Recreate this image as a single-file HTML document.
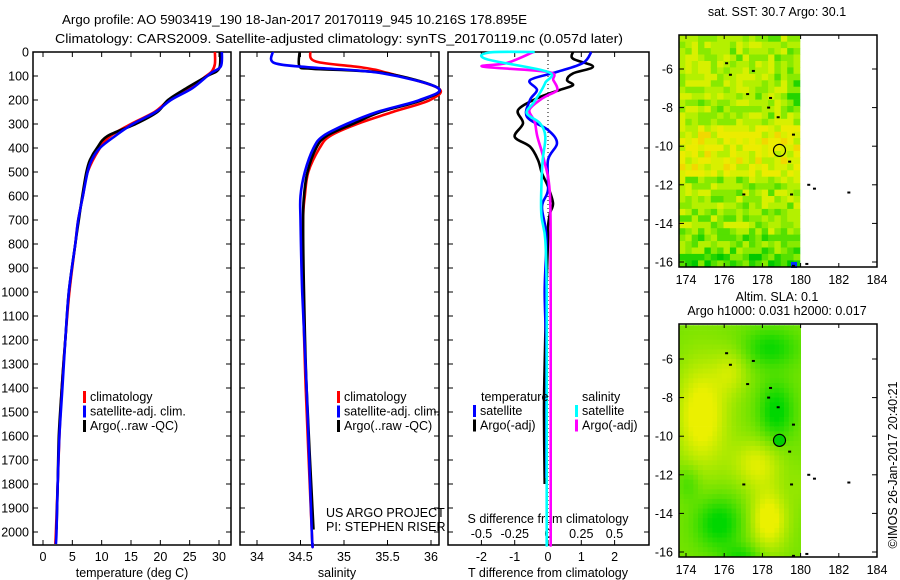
<!DOCTYPE html>
<html><head><meta charset="utf-8"><style>
html,body{margin:0;padding:0;background:#fff;}
svg{display:block;font-family:"Liberation Sans",sans-serif;}
</style></head><body>
<svg id="fig" width="900" height="580" viewBox="0 0 900 580" xmlns="http://www.w3.org/2000/svg">
<text x="62" y="24" font-size="13" textLength="465" lengthAdjust="spacingAndGlyphs">Argo profile: AO 5903419_190 18-Jan-2017 20170119_945 10.216S 178.895E</text>
<text x="55" y="43" font-size="13" textLength="568" lengthAdjust="spacingAndGlyphs">Climatology: CARS2009. Satellite-adjusted climatology: synTS_20170119.nc (0.057d later)</text>
<g id="g1"></g>
<g id="g2"></g>
<g id="g3"></g>
<g id="m1"></g>
<g id="m2"></g>
<text transform="translate(897,465) rotate(-90)" text-anchor="middle" font-size="12.5">©IMOS 26-Jan-2017 20:40:21</text>
</svg>
<script>
// ---- data ----
const tempClimDepth=[0,50,80,100,150,200,250,300,350,400,500,600,700,800,1000,1200,1400,1600,1800,2000,2050];
const tempClim=[29.3,29.3,28.8,27.8,25,21.5,19,15,11.5,9.7,7.6,6.8,6,5.5,4.5,3.8,3.2,2.8,2.5,2.2,2.1];
const tempSatDepth=[0,60,90,150,200,250,300,350,400,450,500,600,700,800,1000,1200,1400,1600,1800,2000,2050];
const tempSat=[30.5,30.3,28.5,25.5,21.8,19.2,15.3,12.3,9.7,8.3,7.6,6.8,6,5.5,4.4,3.8,3.3,2.8,2.5,2.3,2.2];
const tempArgoDepth=[0,70,100,150,200,250,300,350,400,450,500,600,700,800,1000,1200,1400,1600,1800,1990];
const tempArgo=[30.2,30,28,24.5,21.3,19.5,15.8,11,9.2,8,7.4,6.7,6.1,5.5,4.4,3.8,3.2,2.7,2.5,2.3];
const salClimDepth=[0,40,65,87,150,200,250,300,350,400,500,600,700,1000,1400,2000,2050];
const salClim=[34.61,34.68,35.22,35.5,36.08,35.99,35.56,35.15,34.84,34.72,34.59,34.55,34.53,34.53,34.56,34.63,34.64];
const salSatDepth=[0,46,65,87,150,200,250,300,350,400,500,600,700,1000,1400,2000,2050];
const salSat=[34.18,34.2,34.64,35.41,36.08,35.87,35.38,35.03,34.76,34.65,34.55,34.5,34.5,34.52,34.57,34.63,34.64];
const salArgoDepth=[0,60,70,87,150,200,250,300,350,400,500,600,700,1000,1400,1990];
const salArgo=[34.49,34.49,34.64,35.45,36.08,35.9,35.42,35.1,34.8,34.68,34.58,34.54,34.53,34.54,34.57,34.65];
const dTSatDepth=[0,46,83,117,158,200,270,325,380,450,575,645,770,1000,1250,1500,1775];
const dTSat=[1.3,1.05,0.27,-0.54,-0.33,-0.54,-0.63,0,0.27,0,0,-0.18,-0.05,-0.1,-0.05,-0.05,-0.05];
const dTArgoDepth=[0,28,61,89,117,138,158,193,242,297,353,394,450,506,561,630,672,728,783,1000,1300,1500,1800];
const dTArgo=[0.75,0.75,1.35,0.75,0.57,0.75,0.36,-0.33,-0.9,-0.75,-1.0,-0.54,-0.3,-0.18,0,0.15,0.06,0,0,-0.05,-0.1,-0.12,-0.1];
const dSArgoDepth=[0,46,61,83,117,158,180,200,242,290,353,450,600,1000,1500,2000,2050];
const dSArgo=[-0.11,-0.31,-0.49,0,0.04,0.07,0.0,-0.06,-0.14,-0.1,-0.08,-0.03,0.015,0.02,0.02,0.02,0.02];
const dSSatDepth=[0,2,30,83,128,170,212,255,297,353,450,560,680,783,1000,1500,2000,2050];
const dSSat=[-0.1,-0.44,-0.46,0,-0.02,-0.06,-0.11,-0.16,-0.06,-0.02,-0.04,-0.05,-0.05,-0.02,-0.01,-0.01,-0.01,-0.01];
const depthTicks=[0,100,200,300,400,500,600,700,800,900,1000,1100,1200,1300,1400,1500,1600,1700,1800,1900,2000];
const tempTicks=[0,5,10,15,20,25,30];
const salTicks=[34,34.5,35,35.5,36];
const salTickLabels=["34","34.5","35","35.5","36"];
const tdiffTicks=[-2,-1,0,1,2];
const sdiffTicks=[-0.5,-0.25,0,0.25,0.5];
const sdiffLabels=["-0.5","-0.25","0","0.25","0.5"];
const lonTicks=[174,176,178,180,182,184];
const latTicks=[-6,-8,-10,-12,-14,-16];
const argoLon=178.895, argoLat=-10.216;
const islands=[[176.1,-5.7],[176.3,-6.3],[177.5,-6.1],[177.2,-7.3],[178.4,-7.5],[178.3,-8],[178.8,-8.5],[179.6,-9.4],[179.4,-10.8],[180.4,-12],[180.7,-12.2],[182.5,-12.4],[177,-12.5],[179.5,-12.5],[179.6,-16.2],[180.3,-16.1]];

// ---- scales ----
const NS="http://www.w3.org/2000/svg";
const Y=d=>52+0.24*d;
const TX=t=>43+t*176/30;
const SX=s=>257+(s-34)*87;
const DT=t=>548+t*33.3;
const DS=s=>548+s*133;
const LON=x=>686+(x-174)*19.1;
const LAT1=y=>69+(-6-y)*19.3;
const LAT2=y=>359+(-6-y)*19.3;
function mk(tag,attrs,parent){const e=document.createElementNS(NS,tag);for(const k in attrs)e.setAttribute(k,attrs[k]);parent.appendChild(e);return e;}
function txt(parent,x,y,s,anchor,size){const t=mk('text',{x:x,y:y,'font-size':size||12,'text-anchor':anchor||'start'},parent);t.textContent=s;return t;}
function line(parent,xs,ds,fx,color,w){
  const P=xs.map((v,i)=>[fx(v),Y(ds[i])]);
  let d='M'+P[0][0].toFixed(1)+','+P[0][1].toFixed(1);
  for(let i=0;i<P.length-1;i++){
    const p0=P[Math.max(0,i-1)],p1=P[i],p2=P[i+1],p3=P[Math.min(P.length-1,i+2)];
    const c1=[p1[0]+(p2[0]-p0[0])/6,p1[1]+(p2[1]-p0[1])/6];
    const c2=[p2[0]-(p3[0]-p1[0])/6,p2[1]-(p3[1]-p1[1])/6];
    d+=' C'+c1.map(v=>v.toFixed(1)).join(',')+' '+c2.map(v=>v.toFixed(1)).join(',')+' '+p2.map(v=>v.toFixed(1)).join(',');
  }
  return mk('path',{d:d,fill:'none',stroke:color,'stroke-width':w||2.6,'stroke-linejoin':'round'},parent);
}
function frame(g,x0,x1,y0,y1,name){
  const r=mk('rect',{x:x0,y:y0,width:x1-x0,height:y1-y0,fill:'none',stroke:'#000','stroke-width':1.5},g);
  
  
}
function depthTickMarks(g,x0,x1,labels){
  depthTicks.forEach(d=>{
    mk('line',{x1:x0,x2:x0+5,y1:Y(d),y2:Y(d),stroke:'#000'},g);
    mk('line',{x1:x1,x2:x1-5,y1:Y(d),y2:Y(d),stroke:'#000'},g);
    if(labels){const t=txt(g,29,Y(d)+4.5,String(d),'end',12.5);
      
      }
  });
}
function xTicks(g,vals,fx,labels,ylab){
  vals.forEach((v,i)=>{
    const x=fx(v);
    mk('line',{x1:x,x2:x,y1:545,y2:540,stroke:'#000'},g);
    mk('line',{x1:x,x2:x,y1:52,y2:57,stroke:'#000'},g);
    if(labels){const t=txt(g,x,ylab,labels[i],'middle',12.5);
      
      }
  });
}
function legend(g,x,y,items){
  items.forEach((it,i)=>{
    const yy=y+i*14.5;
    const b=mk('rect',{x:x,y:yy-10,width:3,height:12,fill:it[1]},g);
    
    
    const t=txt(g,x+7,yy,it[0],'start',12.5);
    
    
  });
}

// ---- panel 1 ----
const g1=document.getElementById('g1');
frame(g1,33,231,52,545,'temperature-axes');
depthTickMarks(g1,33,231,true);
xTicks(g1,tempTicks,TX,tempTicks.map(String),561);
let t=txt(g1,132,577,'temperature (deg C)','middle',12.5);


let l=line(g1,tempClim,tempClimDepth,TX,'#f00');


l=line(g1,tempArgo,tempArgoDepth,TX,'#000');


l=line(g1,tempSat,tempSatDepth,TX,'#00f');


legend(g1,83,401,[['climatology','#f00'],['satellite-adj. clim.','#00f'],['Argo(..raw -QC)','#000']]);

// ---- panel 2 ----
const g2=document.getElementById('g2');
frame(g2,240,439,52,545,'salinity-axes');
depthTickMarks(g2,240,439,false);
xTicks(g2,salTicks,SX,salTickLabels,561);
t=txt(g2,337,577,'salinity','middle',12.5);


l=line(g2,salClim,salClimDepth,SX,'#f00');


l=line(g2,salArgo,salArgoDepth,SX,'#000');


l=line(g2,salSat,salSatDepth,SX,'#00f');


legend(g2,337,401,[['climatology','#f00'],['satellite-adj. clim.','#00f'],['Argo(..raw -QC)','#000']]);
t=txt(g2,326,517,'US ARGO PROJECT','start',12.5);


t=txt(g2,326,531,'PI: STEPHEN RISER','start',12.5);



// ---- panel 3 ----
const g3=document.getElementById('g3');
frame(g3,448,649,52,545,'difference-axes');
depthTickMarks(g3,448,649,false);
xTicks(g3,tdiffTicks,DT,tdiffTicks.map(String),561);
mk('line',{x1:548,x2:548,y1:52,y2:545,stroke:'#000','stroke-dasharray':'1,3'},g3);
sdiffTicks.forEach((s,i)=>{
  const tt=txt(g3,DS(s),538,sdiffLabels[i],'middle',12.5);
  
  
});
t=txt(g3,548,523,'S difference from climatology','middle',12.5);


t=txt(g3,548,577,'T difference from climatology','middle',12.5);


l=line(g3,dTArgo,dTArgoDepth,DT,'#000');


l=line(g3,dTSat,dTSatDepth,DT,'#00f');


l=line(g3,dSArgo,dSArgoDepth,DS,'#f0f');


l=line(g3,dSSat,dSSatDepth,DS,'#0ff');


t=txt(g3,481,401,'temperature','start',12.5);


t=txt(g3,582,401,'salinity','start',12.5);


legend(g3,473,415,[['satellite','#00f'],['Argo(-adj)','#000']]);
legend(g3,575,415,[['satellite','#0ff'],['Argo(-adj)','#f0f']]);

// ---- maps ----
function hash(i,j){let h=(i*374761393+j*668265263)^0x5bd1e995;h=(h^(h>>>13))*1274126177;return ((h^(h>>>16))>>>0)/4294967296;}
const sstPal=['#00c800','#22d400','#55e000','#88ea00','#b4f000','#d8f000','#ecec00','#f2d800'];
function mapFrame(g,LATF,y0,y1,name){
  frame(g,679,877,y0,y1,name);
  lonTicks.forEach(v=>{
    const x=LON(v);
    mk('line',{x1:x,x2:x,y1:y1,y2:y1-4,stroke:'#000'},g);
    mk('line',{x1:x,x2:x,y1:y0,y2:y0+4,stroke:'#000'},g);
    const tt=txt(g,x,y1+17,String(v),'middle',12.5);
    
    
  });
  latTicks.forEach(v=>{
    const y=LATF(v);
    mk('line',{x1:877,x2:872,y1:y,y2:y,stroke:'#000'},g);
    mk('line',{x1:679,x2:684,y1:y,y2:y,stroke:'#000'},g);
    const tt=txt(g,673,y+4.5,String(v),'end',12.5);
    
    
  });
  islands.forEach(p=>{
    const y=LATF(p[1]);
    if(y>y0&&y<y1) mk('rect',{x:LON(p[0])-1,y:y-1,width:3,height:2,fill:'#000'},g);
  });
  const c=mk('circle',{cx:LON(argoLon),cy:LATF(argoLat),r:6,fill:'none',stroke:'#000','stroke-width':1.2},g);
  
  
}
// SST map
const m1=document.getElementById('m1');
t=txt(m1,777,16,'sat. SST: 30.7 Argo: 30.1','middle',12.5);


{const cs=0.3333;
 for(let i=0;i<19;i++)for(let j=0;j<37;j++){
  const lon=173.63+i*cs, lat=-4.25-j*cs;
  if(lon>=180) continue;
  let base=3.8;
  if(lat<-8.6&&lat>-11.5) base=5.4;
  else if(lat<-11.5&&lat>-14.5) base=3.5;
  else if(lat<=-14.5) base=2.6+(lat<-15.3?-1.2:0);
  if(lon>179&&lat>-8) base-=1.3;
  let v=Math.round(base+(hash(i,j)-0.5)*3.0);
  v=Math.max(0,Math.min(7,v));
  const x=LON(lon), y=LAT1(lat);
  const yb=Math.max(y,35), ye=Math.min(LAT1(lat-cs),267);
  mk('rect',{x:x.toFixed(1),y:yb.toFixed(1),width:(Math.min(LON(lon+cs),LON(180))-x+0.4).toFixed(1),height:(ye-yb+0.4).toFixed(1),fill:sstPal[v]},m1);
 }
 mk('rect',{x:LON(179.5),y:LAT1(-16),width:6,height:6,fill:'#0030ff'},m1);
}
mapFrame(m1,LAT1,35,267,'sst-map-axes');
// SLA map
const m2=document.getElementById('m2');
t=txt(m2,777,301,'Altim. SLA: 0.1','middle',12.5);


t=txt(m2,777,315,'Argo h1000: 0.031 h2000: 0.017','middle',12.5);


{// [lon, lat, sx, sy, amp]
 const blobs=[[174.7,-8.8,1.4,2.8,1.2],[178.2,-14.2,1.0,1.6,1.2],[177.6,-11.3,1.3,1.3,0.9],[176.3,-6.5,0.9,1.2,0.6],
  [178.6,-8.6,0.9,1.5,-1.1],[178.3,-5.3,1.4,1.0,-0.9],[175.6,-14.4,1.2,1.3,-1.1],[174,-12.3,0.6,0.9,-0.5],[176.8,-16.2,1.0,0.7,-0.8],[179.9,-12.5,0.6,1.2,0.2]];
 const cs=0.25;
 for(let i=0;i<26;i++)for(let j=0;j<49;j++){
  const lon=173.63+i*cs, lat=-4.25-j*cs;
  if(lon>=180) continue;
  let v=0.5;
  blobs.forEach(b=>{const d2=((lon-b[0])/b[2])**2+((lat-b[1])/b[3])**2;v+=0.5*b[4]*Math.exp(-d2);});
  v=Math.max(0,Math.min(1,v));
  const r=Math.round(0+v*235), gg=Math.round(215+v*25);
  const x=LON(lon), y=LAT2(lat);
  const yb=Math.max(y,324), ye=Math.min(LAT2(lat-cs),557);
  mk('rect',{x:x.toFixed(1),y:yb.toFixed(1),width:(Math.min(LON(lon+cs),LON(180))-x+0.4).toFixed(1),height:(ye-yb+0.4).toFixed(1),fill:'rgb('+r+','+gg+',0)'},m2);
 }
 mk('circle',{cx:LON(argoLon),cy:LAT2(argoLat),r:5.5,fill:'#00d000'},m2);
}
mapFrame(m2,LAT2,324,557,'sla-map-axes');
</script>
</body></html>
